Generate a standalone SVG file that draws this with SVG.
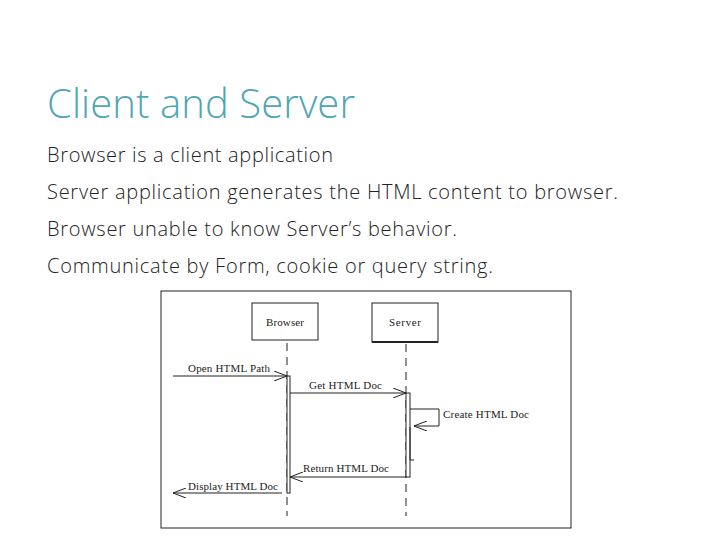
<svg xmlns="http://www.w3.org/2000/svg" width="720" height="540" viewBox="0 0 720 540">
<style>
.t{font-family:"Open Sans","Liberation Sans",sans-serif;font-weight:300;fill:#222;font-size:20px}
.s{font-family:"Liberation Serif",serif;font-size:11px;fill:#222}
.l{stroke:#222;stroke-width:1;fill:none}
.d{stroke:#222;stroke-width:1;stroke-dasharray:8,6;fill:none}
</style>
<defs><marker id="a" markerWidth="14" markerHeight="10" refX="13" refY="5" orient="auto" markerUnits="userSpaceOnUse"><path d="M0,0 L13,5 L0,10" fill="none" stroke="#222"/></marker></defs>
<rect width="720" height="540" fill="#fff"/>
<text x="47" y="118" font-family="Open Sans,Liberation Sans,sans-serif" font-weight="300" font-size="40" fill="#4fa6b6" textLength="308">Client and Server</text>
<text class="t" x="47" y="162" textLength="286">Browser is a client application</text>
<text class="t" x="47" y="199" textLength="571">Server application generates the HTML content to browser.</text>
<text class="t" x="47" y="236" textLength="410">Browser unable to know Server’s behavior.</text>
<text class="t" x="47" y="273" textLength="446">Communicate by Form, cookie or query string.</text>
<rect x="161" y="291" width="410" height="237" fill="#fff" stroke="#222"/>
<g id="browser"><rect x="252" y="303" width="66" height="37" fill="#fff" stroke="#222"/><text class="s" x="285" y="326" text-anchor="middle" textLength="38">Browser</text></g>
<g id="server"><rect x="372" y="303" width="66" height="39" fill="#fff" stroke="#222"/><line x1="372" y1="342" x2="438" y2="342" stroke="#222" stroke-width="2"/><text class="s" x="405" y="326" text-anchor="middle" textLength="32">Server</text></g>
<g id="connectors">
<line class="d" x1="287" y1="343" x2="287" y2="516"/>
<line class="d" x1="406" y1="344" x2="406" y2="516"/>
<rect x="287" y="376" width="3" height="117" fill="#fff" stroke="#222"/>
<rect x="406" y="393" width="4" height="84" fill="#fff" stroke="#222"/>
<path class="l" d="M410,427 L410,460 L414,460"/>
<line class="l" x1="173" y1="376" x2="287" y2="376" marker-end="url(#a)"/>
<line class="l" x1="290" y1="393" x2="406" y2="393" marker-end="url(#a)"/>
<path class="l" d="M410,409 L439,409 L439,426 L414,426" marker-end="url(#a)"/>
<line class="l" x1="406" y1="477" x2="290" y2="477" marker-end="url(#a)"/>
<line class="l" x1="282" y1="493" x2="173" y2="493" marker-end="url(#a)"/>
</g>
<text class="s" x="188" y="372" textLength="82">Open HTML Path</text>
<text class="s" x="309" y="389" textLength="73">Get HTML Doc</text>
<text class="s" x="443" y="418" textLength="86">Create HTML Doc</text>
<text class="s" x="303" y="472" textLength="86">Return HTML Doc</text>
<text class="s" x="188" y="490" textLength="90">Display HTML Doc</text>
</svg>
